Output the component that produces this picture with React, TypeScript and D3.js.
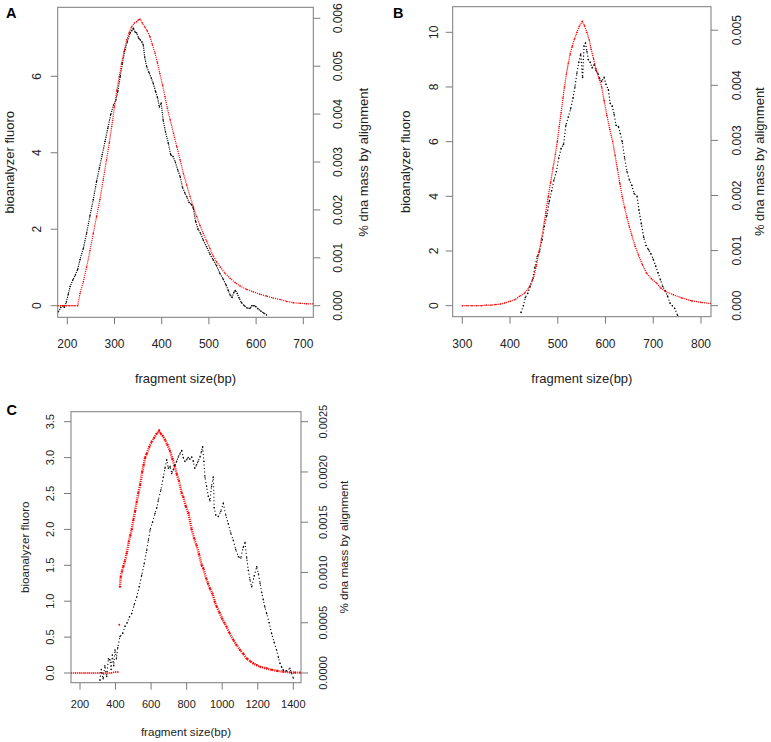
import React from 'react';
import * as d3 from 'd3';

type Pt = [number, number];

const FONT = '"Liberation Sans", Arial, Helvetica, sans-serif';
const AXIS_COLOR = '#7a7a7a';

// ---------- tick labels ----------
const aXTicks = [200, 300, 400, 500, 600, 700];
const aLeftTicks = [0, 2, 4, 6];
const aRightTicks = [0, 0.001, 0.002, 0.003, 0.004, 0.005, 0.006];
const bXTicks = [300, 400, 500, 600, 700, 800];
const bLeftTicks = [0, 2, 4, 6, 8, 10];
const bRightTicks = [0, 0.001, 0.002, 0.003, 0.004, 0.005];
const cXTicks = [200, 400, 600, 800, 1000, 1200, 1400];
const cLeftTicks = [0, 0.5, 1, 1.5, 2, 2.5, 3, 3.5];
const cRightTicks = [0, 0.0005, 0.001, 0.0015, 0.002, 0.0025];

// ---------- panel A ----------
// bioanalyzer fluoro (left axis)
const aBlackFluoro: Pt[] = [
  [181, -0.16], [186, -0.05], [190, 0.0], [194, -0.04], [198, 0.1], [202, 0.3], [206, 0.5], [212, 0.68],
  [217, 0.8], [222, 0.95], [227, 1.21], [234, 1.5], [241, 1.9], [248, 2.35], [255, 2.77], [262, 3.25],
  [268, 3.6], [274, 3.95], [280, 4.3], [286, 4.65], [292, 5.0], [298, 5.25], [303, 5.38], [307, 5.6],
  [312, 5.99], [317, 6.35], [322, 6.69], [327, 6.9], [333, 7.13], [337, 7.2], [340, 7.26], [344, 7.15],
  [347, 7.13], [351, 7.0], [354, 6.96], [358, 6.9], [361, 6.82], [364, 6.5], [368, 6.26], [373, 6.1],
  [378, 5.95], [382, 5.82], [387, 5.6], [391, 5.45], [395, 5.2], [399, 5.3], [403, 4.86], [408, 4.55],
  [414, 4.25], [419, 3.95], [424, 3.9], [429, 3.75], [434, 3.55], [439, 3.38], [444, 3.1], [449, 2.95],
  [453, 2.85], [458, 2.7], [463, 2.65], [467, 2.55], [472, 2.2], [477, 2.0], [482, 1.9], [488, 1.72],
  [495, 1.54], [502, 1.35], [509, 1.2], [516, 1.05], [523, 0.85], [530, 0.7], [536, 0.55], [541, 0.4],
  [545, 0.28], [549, 0.22], [553, 0.35], [556, 0.4], [560, 0.32], [564, 0.2], [569, 0.08], [575, 0.0],
  [581, -0.06], [587, -0.07], [591, 0.0], [595, 0.0], [599, -0.02], [604, -0.08], [610, -0.14],
  [616, -0.19], [622, -0.24],
];
// % dna mass by alignment (right axis)
const aRedMass: Pt[] = [
  [180, 0], [186, 0], [192, 0], [198, 0], [204, 0], [210, 0], [216, 0], [222, 0], [227, 0.00026],
  [234, 0.0005], [241, 0.00081], [248, 0.00115], [255, 0.00151], [262, 0.00186], [269, 0.00221],
  [276, 0.00262], [283, 0.00304], [289, 0.0034], [294, 0.00374], [300, 0.00415], [305, 0.0045],
  [310, 0.00478], [315, 0.00506], [320, 0.0053], [326, 0.00555], [331, 0.0057], [336, 0.00582],
  [342, 0.0059], [347, 0.00593], [351, 0.00597], [354, 0.00598], [359, 0.0059], [364, 0.00582],
  [369, 0.00574], [375, 0.00562], [380, 0.00546], [386, 0.00527], [391, 0.00507], [396, 0.00485],
  [402, 0.0046], [407, 0.00436], [412, 0.00412], [418, 0.00388], [425, 0.0036], [432, 0.00332],
  [439, 0.00304], [446, 0.00276], [453, 0.00252], [460, 0.00228], [467, 0.00207], [474, 0.00186],
  [481, 0.00168], [488, 0.00151], [495, 0.00135], [502, 0.0012], [509, 0.00104], [516, 0.00092],
  [524, 0.00081], [534, 0.00068], [545, 0.00057], [556, 0.00048], [566, 0.00041], [580, 0.00034],
  [594, 0.00029], [608, 0.00024], [622, 0.0002], [636, 0.00016], [651, 0.00013], [665, 0.00009],
  [679, 0.00006], [693, 0.00005], [707, 0.00004], [721, 0.00004],
];

// ---------- panel B ----------
const bBlackFluoro: Pt[] = [
  [423, -0.25], [428, 0.0], [432, 0.3], [437, 0.45], [442, 0.7], [447, 0.95], [452, 1.4], [457, 1.8],
  [462, 2.0], [467, 2.4], [472, 2.9], [477, 3.3], [482, 3.8], [487, 4.2], [492, 4.6], [497, 4.9],
  [502, 5.4], [507, 5.75], [512, 5.9], [517, 6.6], [522, 6.9], [527, 7.2], [532, 7.6], [536, 8.0],
  [540, 8.5], [544, 8.9], [548, 9.2], [552, 8.35], [555, 9.5], [558, 9.6], [561, 9.3], [564, 9.0],
  [568, 8.9], [572, 8.7], [576, 8.8], [580, 8.6], [584, 8.5], [588, 8.3], [592, 8.2], [597, 8.35],
  [601, 8.1], [606, 7.9], [610, 7.4], [614, 7.3], [618, 7.0], [622, 6.6], [627, 6.55], [631, 6.3],
  [635, 6.0], [640, 5.4], [645, 4.9], [650, 4.6], [655, 4.4], [660, 4.1], [666, 4.0], [670, 3.5],
  [675, 3.0], [680, 2.5], [685, 2.2], [690, 2.05], [695, 1.9], [700, 1.7], [705, 1.45], [710, 1.2],
  [715, 0.95], [720, 0.7], [725, 0.55], [730, 0.35], [735, 0.1], [740, 0.0], [745, -0.1], [751, -0.35],
];
const bRedMass: Pt[] = [
  [300, 0], [310, 0], [320, 0], [330, 0], [340, 0], [350, 0.00001], [360, 0.00001], [370, 0.00002],
  [380, 0.00003], [389, 0.00005], [400, 0.00008], [410, 0.00011], [420, 0.00017], [431, 0.00023],
  [440, 0.00033], [449, 0.0005], [455, 0.00072], [461, 0.00099], [466, 0.00122], [470, 0.00142],
  [475, 0.0017], [480, 0.00198], [485, 0.00224], [490, 0.0025], [495, 0.00275], [499, 0.00298],
  [503, 0.00325], [507, 0.0035], [511, 0.00377], [514, 0.00397], [518, 0.0042], [522, 0.0044],
  [526, 0.00457], [530, 0.0047], [535, 0.00484], [540, 0.00496], [545, 0.00507], [551, 0.00516],
  [556, 0.00508], [561, 0.00496], [566, 0.00482], [570, 0.00465], [575, 0.00448], [580, 0.0043],
  [586, 0.00413], [592, 0.00397], [597, 0.00372], [603, 0.00345], [609, 0.0032], [615, 0.00298],
  [620, 0.00273], [625, 0.00248], [630, 0.00222], [635, 0.00198], [640, 0.00178], [645, 0.0016],
  [650, 0.00143], [655, 0.00128], [662, 0.00108], [669, 0.00092], [677, 0.00075], [686, 0.00059],
  [696, 0.00049], [707, 0.00041], [716, 0.00032], [725, 0.00026], [742, 0.0002], [760, 0.00014],
  [780, 0.00009], [800, 0.00006], [820, 0.00004],
];

// ---------- panel C ----------
const cBlackFluoro: Pt[] = [
  [312, -0.1], [320, 0.05], [330, -0.08], [340, 0.1], [350, -0.05], [360, 0.2], [369, 0.18], [375, 0.05],
  [382, 0.25], [390, 0.1], [397, 0.32], [405, 0.2], [412, 0.35], [425, 0.51], [440, 0.55], [453, 0.65],
  [465, 0.7], [478, 0.78], [491, 0.83], [505, 0.95], [519, 1.06], [533, 1.2], [547, 1.36], [561, 1.52],
  [575, 1.71], [585, 1.85], [594, 1.99], [608, 2.1], [622, 2.22], [632, 2.3], [641, 2.41], [655, 2.55],
  [669, 2.73], [678, 2.85], [688, 2.97], [697, 2.85], [707, 2.88], [716, 2.78], [725, 2.83], [735, 2.9],
  [744, 2.95], [753, 3.01], [762, 3.05], [772, 3.1], [781, 3.0], [790, 2.95], [800, 2.97], [809, 3.0],
  [818, 2.98], [828, 3.01], [837, 2.95], [846, 2.85], [856, 2.9], [865, 2.95], [875, 3.01], [883, 3.08],
  [890, 3.15], [897, 2.95], [903, 2.73], [912, 2.6], [922, 2.46], [931, 2.4], [940, 2.6], [950, 2.73],
  [955, 2.3], [964, 2.2], [978, 2.18], [992, 2.25], [1006, 2.36], [1020, 2.2], [1034, 2.08], [1048, 1.95],
  [1062, 1.85], [1076, 1.72], [1091, 1.62], [1105, 1.6], [1118, 1.75], [1128, 1.81], [1138, 1.6],
  [1147, 1.43], [1156, 1.3], [1166, 1.2], [1180, 1.35], [1194, 1.48], [1204, 1.38], [1213, 1.25],
  [1222, 1.12], [1231, 1.02], [1240, 0.92], [1250, 0.83], [1264, 0.7], [1278, 0.55], [1292, 0.43],
  [1306, 0.32], [1316, 0.22], [1325, 0.135], [1335, 0.08], [1344, 0.04], [1362, 0.03], [1381, 0.065],
  [1390, 0.0], [1400, -0.07],
];
const cRedFlat: Pt[] = [
  [150, 0], [175, 0], [200, 0], [225, 0], [250, 0], [275, 0], [300, 0], [325, 0], [350, 0], [375, 0],
  [400, 0.00001], [418, 0.00001],
];
const cRedIsolated: Pt[] = [[421, 0.00048]];
const cRedMass: Pt[] = [
  [425, 0.000857], [429, 0.000957], [436, 0.00101], [444, 0.00106], [452, 0.00111], [463, 0.00119],
  [475, 0.00131], [483, 0.00137], [491, 0.00143], [500, 0.00152], [510, 0.00161], [519, 0.0017],
  [528, 0.00179], [538, 0.00187], [550, 0.002], [558, 0.00207], [566, 0.00214], [575, 0.00218],
  [590, 0.00225], [603, 0.0023], [617, 0.00234], [631, 0.00238], [645, 0.00241], [655, 0.00238],
  [665, 0.00236], [678, 0.00232], [692, 0.00227], [706, 0.00221], [720, 0.00213], [732, 0.00206],
  [744, 0.00198], [757, 0.00191], [772, 0.00179], [781, 0.00175], [795, 0.00166], [810, 0.00159],
  [828, 0.00143], [842, 0.00134], [856, 0.00127], [870, 0.00118], [885, 0.00107], [894, 0.00104],
  [910, 0.00094], [920, 0.00089], [931, 0.00084], [945, 0.00079], [958, 0.00071], [969, 0.00066],
  [985, 0.0006], [1000, 0.00054], [1012, 0.0005], [1025, 0.00046], [1040, 0.0004], [1062, 0.00033],
  [1080, 0.00028], [1100, 0.00023], [1119, 0.00019], [1140, 0.00014], [1160, 0.000114],
  [1175, 0.000096], [1194, 0.000079], [1215, 0.000061], [1250, 0.000046], [1280, 0.000032],
  [1310, 0.000021], [1344, 0.000013], [1380, 0.000007], [1410, 0.000004], [1440, 0.000003],
];

// ---------- panel specs (layout) ----------
interface Series { data: Pt[]; axis: 'L' | 'R'; color: string; dash: string; width: number; r: number; line: boolean }
interface Spec {
  id: string;
  box: [number, number, number, number]; // left, top, right, bottom
  xDom: [number, number]; xRange: [number, number];
  lDom: [number, number]; lRange: [number, number];
  rDom: [number, number]; rRange: [number, number];
  xTicks: number[]; lTicks: number[]; rTicks: number[];
  lFmt: (v: number) => string; rFmt: (v: number) => string;
  tickFont: number; titleFont: number;
  xLabelY: number; xTitleY: number; lLabelX: number; lTitleX: number; rLabelX: number; rTitleX: number;
  letterX: number; letterY: number;
  series: Series[];
}

const specs: Spec[] = [
  {
    id: 'A', box: [57.7, 7.3, 313.3, 317.3],
    xDom: [200, 700], xRange: [67.3, 303.3],
    lDom: [0, 6], lRange: [305.7, 76.3],
    rDom: [0, 0.006], rRange: [305.7, 18.3],
    xTicks: aXTicks, lTicks: aLeftTicks, rTicks: aRightTicks,
    lFmt: d3.format('d'), rFmt: d3.format('.3f'),
    tickFont: 12, titleFont: 13,
    xLabelY: 347.5, xTitleY: 383, lLabelX: 41, lTitleX: 14, rLabelX: 342, rTitleX: 367.5,
    letterX: 6, letterY: 18.3,
    series: [
      { data: aBlackFluoro, axis: 'L', color: '#000', dash: '1.1 1.1', width: 1.2, r: 0.75, line: true },
      { data: aRedMass, axis: 'R', color: '#f00', dash: '1.1 1.0', width: 1.2, r: 0.75, line: true },
    ],
  },
  {
    id: 'B', box: [452.7, 6.7, 711, 316.7],
    xDom: [300, 800], xRange: [462.3, 701],
    lDom: [0, 10], lRange: [305.7, 32.3],
    rDom: [0, 0.005], rRange: [305.7, 30.2],
    xTicks: bXTicks, lTicks: bLeftTicks, rTicks: bRightTicks,
    lFmt: d3.format('d'), rFmt: d3.format('.3f'),
    tickFont: 12, titleFont: 13,
    xLabelY: 347.5, xTitleY: 383, lLabelX: 437.6, lTitleX: 409.5, rLabelX: 741, rTitleX: 764,
    letterX: 393, letterY: 17.5,
    series: [
      { data: bBlackFluoro, axis: 'L', color: '#000', dash: '1.1 2.2', width: 1.2, r: 0.8, line: true },
      { data: bRedMass, axis: 'R', color: '#f00', dash: '1.1 0.9', width: 1.3, r: 0.75, line: true },
    ],
  },
  {
    id: 'C', box: [71, 411.7, 301, 682.7],
    xDom: [200, 1400], xRange: [80, 293.3],
    lDom: [0, 3.5], lRange: [673, 421.7],
    rDom: [0, 0.0025], rRange: [673, 421.7],
    xTicks: cXTicks, lTicks: cLeftTicks, rTicks: cRightTicks,
    lFmt: d3.format('.1f'), rFmt: d3.format('.4f'),
    tickFont: 11, titleFont: 11.6,
    xLabelY: 708, xTitleY: 735.5, lLabelX: 54, lTitleX: 29.3, rLabelX: 327.3, rTitleX: 347.5,
    letterX: 6.5, letterY: 415,
    series: [
      { data: cRedFlat, axis: 'R', color: '#f00', dash: '1.2 0.8', width: 1.6, r: 0.6, line: true },
      { data: cRedIsolated, axis: 'R', color: '#f00', dash: '', width: 1, r: 0.9, line: false },
      { data: cRedMass, axis: 'R', color: '#f00', dash: '1 1.1', width: 2.4, r: 1.1, line: true },
      { data: cBlackFluoro, axis: 'L', color: '#000', dash: '1.1 2.4', width: 1.1, r: 0.75, line: true },
    ],
  },
];

function Panel({ s }: { s: Spec }) {
  const [bl, bt, br, bb] = s.box;
  const x = d3.scaleLinear().domain(s.xDom).range(s.xRange);
  const yL = d3.scaleLinear().domain(s.lDom).range(s.lRange);
  const yR = d3.scaleLinear().domain(s.rDom).range(s.rRange);
  const clipId = `clip-${s.id}`;
  const tick = 7;
  const midX = (bl + br) / 2;
  const midY = (bt + bb) / 2;
  const textStyle = { fontFamily: FONT, fill: '#222' } as React.CSSProperties;

  return (
    <g>
      <defs>
        <clipPath id={clipId}>
          <rect x={bl} y={bt} width={br - bl} height={bb - bt} />
        </clipPath>
      </defs>
      <g clipPath={`url(#${clipId})`}>
        {s.series.map((ser, i) => {
          const ys = ser.axis === 'L' ? yL : yR;
          const gen = d3.line<Pt>().x(d => x(d[0])).y(d => ys(d[1])).curve(d3.curveLinear);
          return (
            <g key={i}>
              {ser.line && (
                <path d={gen(ser.data) || ''} fill="none" stroke={ser.color} strokeWidth={ser.width}
                  strokeDasharray={ser.dash} />
              )}
              {ser.data.map((d, j) => (
                <circle key={j} cx={x(d[0])} cy={ys(d[1])} r={ser.r} fill={ser.color} />
              ))}
            </g>
          );
        })}
      </g>
      <rect x={bl} y={bt} width={br - bl} height={bb - bt} fill="none" stroke={AXIS_COLOR} strokeWidth={1} />
      {/* x axis */}
      {s.xTicks.map(t => (
        <g key={`x${t}`}>
          <line x1={x(t)} x2={x(t)} y1={bb} y2={bb + tick} stroke={AXIS_COLOR} />
          <text x={x(t)} y={s.xLabelY} textAnchor="middle" fontSize={s.tickFont} style={textStyle}>{t}</text>
        </g>
      ))}
      {/* left axis */}
      {s.lTicks.map(t => (
        <g key={`l${t}`}>
          <line x1={bl - tick} x2={bl} y1={yL(t)} y2={yL(t)} stroke={AXIS_COLOR} />
          <text transform={`translate(${s.lLabelX},${yL(t)}) rotate(-90)`} textAnchor="middle"
            fontSize={s.tickFont} style={textStyle}>{s.lFmt(t)}</text>
        </g>
      ))}
      {/* right axis */}
      {s.rTicks.map(t => (
        <g key={`r${t}`}>
          <line x1={br} x2={br + tick} y1={yR(t)} y2={yR(t)} stroke={AXIS_COLOR} />
          <text transform={`translate(${s.rLabelX},${yR(t)}) rotate(-90)`} textAnchor="middle"
            fontSize={s.tickFont} style={textStyle}>{s.rFmt(t)}</text>
        </g>
      ))}
      <text x={midX} y={s.xTitleY} textAnchor="middle" fontSize={s.titleFont} style={textStyle}>fragment size(bp)</text>
      <text transform={`translate(${s.lTitleX},${midY}) rotate(-90)`} textAnchor="middle" fontSize={s.titleFont}
        style={textStyle}>bioanalyzer fluoro</text>
      <text transform={`translate(${s.rTitleX},${midY}) rotate(-90)`} textAnchor="middle" fontSize={s.titleFont}
        style={textStyle}>% dna mass by alignment</text>
      <text x={s.letterX} y={s.letterY} fontSize={14.5} fontWeight="bold" style={{ fontFamily: FONT, fill: '#000' }}>{s.id}</text>
    </g>
  );
}

export default function App() {
  return (
    <svg width={771} height={742} viewBox="0 0 771 742"
      style={{ position: 'absolute', left: 0, top: 0, background: '#fff', display: 'block' }}>
      <rect x={0} y={0} width={771} height={742} fill="#fff" />
      {specs.map(s => <Panel key={s.id} s={s} />)}
    </svg>
  );
}
